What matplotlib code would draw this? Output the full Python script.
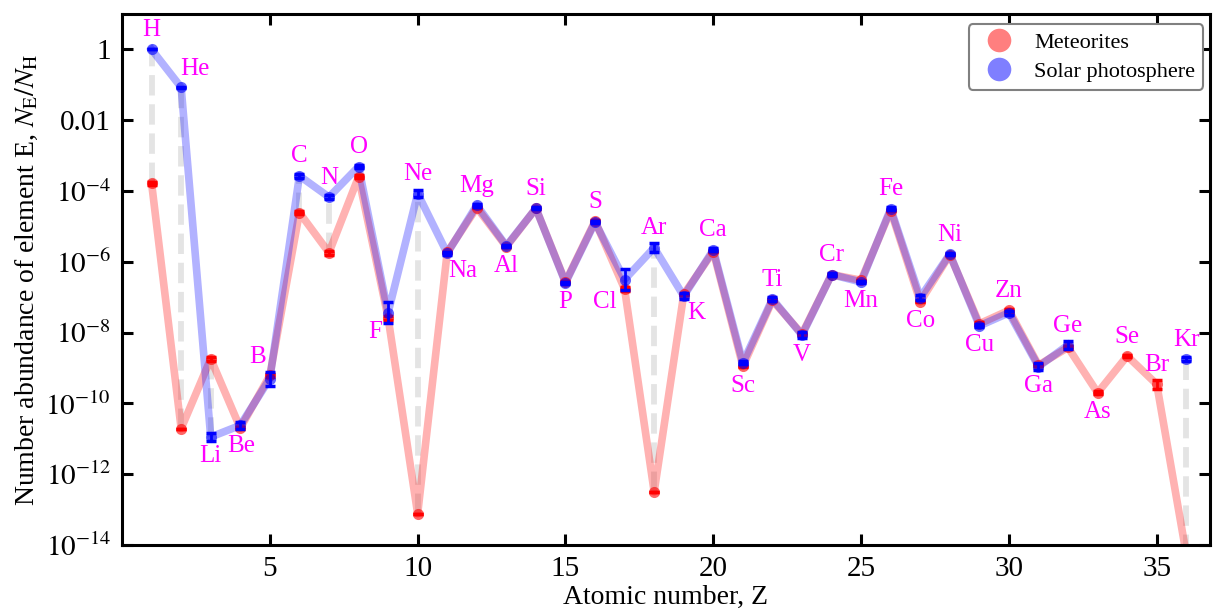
import matplotlib
matplotlib.use("Agg")
import matplotlib.pyplot as plt
from matplotlib.lines import Line2D
import numpy as np

plt.rcParams["font.family"] = ["Liberation Serif", "DejaVu Serif"]
plt.rcParams["mathtext.fontset"] = "stix"

# log10 abundances on the scale log N_H = 12
elements = ["H", "He", "Li", "Be", "B", "C", "N", "O", "F", "Ne",
            "Na", "Mg", "Al", "Si", "P", "S", "Cl", "Ar", "K", "Ca",
            "Sc", "Ti", "V", "Cr", "Mn", "Fe", "Co", "Ni", "Cu", "Zn",
            "Ga", "Ge", "As", "Se", "Br", "Kr"]
z_num = np.arange(1, 37)
solar_log = [12.00, 10.93, 1.05, 1.38, 2.70, 8.43, 7.83, 8.69, 4.56, 7.93,
             6.24, 7.60, 6.45, 7.51, 5.41, 7.12, 5.50, 6.40, 5.03, 6.34,
             3.15, 4.95, 3.93, 5.64, 5.43, 7.50, 4.99, 6.22, 4.19, 4.56,
             3.04, 3.65, np.nan, np.nan, np.nan, 3.25]
solar_err = [0.0, 0.01, 0.10, 0.09, 0.20, 0.05, 0.05, 0.05, 0.30, 0.10,
             0.04, 0.04, 0.03, 0.03, 0.03, 0.03, 0.30, 0.13, 0.09, 0.04,
             0.04, 0.05, 0.08, 0.04, 0.04, 0.04, 0.07, 0.04, 0.04, 0.05,
             0.09, 0.10, 0.0, 0.0, 0.0, 0.06]
met_log = [8.22, 1.29, 3.26, 1.30, 2.79, 7.39, 6.26, 8.40, 4.42, -1.12,
           6.27, 7.53, 6.43, 7.51, 5.43, 7.15, 5.23, -0.50, 5.08, 6.29,
           3.05, 4.91, 3.96, 5.64, 5.48, 7.45, 4.87, 6.20, 4.25, 4.63,
           3.08, 3.58, 2.30, 3.34, 2.54, -2.27]
met_err = [0.04, 0.0, 0.05, 0.03, 0.04, 0.04, 0.06, 0.04, 0.06, 0.0,
           0.02, 0.01, 0.01, 0.01, 0.04, 0.02, 0.06, 0.0, 0.02, 0.02,
           0.02, 0.03, 0.02, 0.01, 0.01, 0.01, 0.01, 0.01, 0.04, 0.04,
           0.02, 0.04, 0.04, 0.03, 0.12, 0.0]

# label placement: (dx, dy) in points from the point
label_pos = {e: (0, 14) for e in elements}
for e in ["Li", "Be", "Al", "P", "Sc", "V", "Mn", "Co", "Cu", "Ga", "As"]:
    label_pos[e] = (0, -14)
label_pos.update({"He": (10, 13), "B": (-9, 13), "F": (-9, -10),
                  "Na": (11, -13), "Cl": (-14, -9), "K": (9, -12),
                  "Be": (1, -13)})


def to_ratio(v, e):
    v = np.array(v, dtype=float)
    e = np.array(e, dtype=float)
    y = 10 ** (v - 12)
    return y, y - 10 ** (v - e - 12), 10 ** (v + e - 12) - y


sol_y, sol_lo, sol_hi = to_ratio(solar_log, solar_err)
met_y, met_lo, met_hi = to_ratio(met_log, met_err)

fig = plt.figure(figsize=(12.13, 6.13), dpi=100)
ax = fig.add_axes([0.1006, 0.111, 0.8969, 0.866])

# grey dashed connectors
both = ~np.isnan(sol_y)
ax.vlines(z_num[both], met_y[both], sol_y[both], colors="#dcdcdc",
          linestyles=(0, (3.5, 1.5)), linewidth=4.2, alpha=0.75, zorder=1)

ax.plot(z_num, met_y, color="red", lw=5.5, alpha=0.3, zorder=2,
        solid_joinstyle="round")
ax.plot(z_num, sol_y, color="blue", lw=5.5, alpha=0.3, zorder=2,
        solid_joinstyle="round")

ax.plot(z_num, met_y, "o", color="red", ms=8, alpha=0.6, mec="none", zorder=3)
ax.errorbar(z_num, met_y, yerr=[met_lo, met_hi], fmt="none", ecolor="red",
            elinewidth=2, capsize=3.5, capthick=2.5, zorder=3)
ax.plot(z_num, sol_y, "o", color="blue", ms=8, alpha=0.6, mec="none", zorder=4)
ax.errorbar(z_num, sol_y, yerr=[sol_lo, sol_hi], fmt="none", ecolor="blue",
            elinewidth=2, capsize=3.5, capthick=2.5, zorder=4)

for z, name, s, m in zip(z_num, elements, sol_y, met_y):
    dx, dy = label_pos[name]
    vals = [v for v in (s, m) if not np.isnan(v) and v > 1e-14]
    anchor = max(vals) if dy > 0 else min(vals)
    ax.annotate(name, (z, anchor), xytext=(dx, dy), textcoords="offset points",
                ha="center", va="center", color="magenta", fontsize=18,
                zorder=5)

ax.set_yscale("log")
ax.set_xlim(0, 36.8)
ax.set_ylim(1e-14, 10)
ax.set_xticks([5, 10, 15, 20, 25, 30, 35])
yt = [1, 1e-2, 1e-4, 1e-6, 1e-8, 1e-10, 1e-12, 1e-14]
ax.set_yticks(yt)
ax.set_yticklabels(["1", "0.01"] + [r"$10^{%d}$" % int(np.log10(v)) for v in yt[2:]])
ax.minorticks_off()
ax.tick_params(direction="in", top=True, right=True, length=8, width=2.2,
               labelsize=21, pad=8)
for sp in ax.spines.values():
    sp.set_linewidth(2.2)

ax.set_xlabel("Atomic number, Z", fontsize=20, labelpad=2)
ax.set_ylabel(r"Number abundance of element E, $N_\mathrm{E}/N_\mathrm{H}$",
              fontsize=20, labelpad=4)

handles = [Line2D([], [], marker="o", ls="none", color="red", alpha=0.5, ms=17, mec="none"),
           Line2D([], [], marker="o", ls="none", color="blue", alpha=0.5, ms=17, mec="none")]
leg = ax.legend(handles, ["Meteorites", "Solar photosphere"], loc="upper right",
                bbox_to_anchor=(0.9936, 0.981), borderaxespad=0,
                fontsize=16, frameon=True, fancybox=True, edgecolor="gray",
                framealpha=1, handletextpad=0.6, labelspacing=0.4,
                borderpad=0.35)
leg.get_frame().set_linewidth(1.5)

fig.savefig("out.png", dpi=100)
